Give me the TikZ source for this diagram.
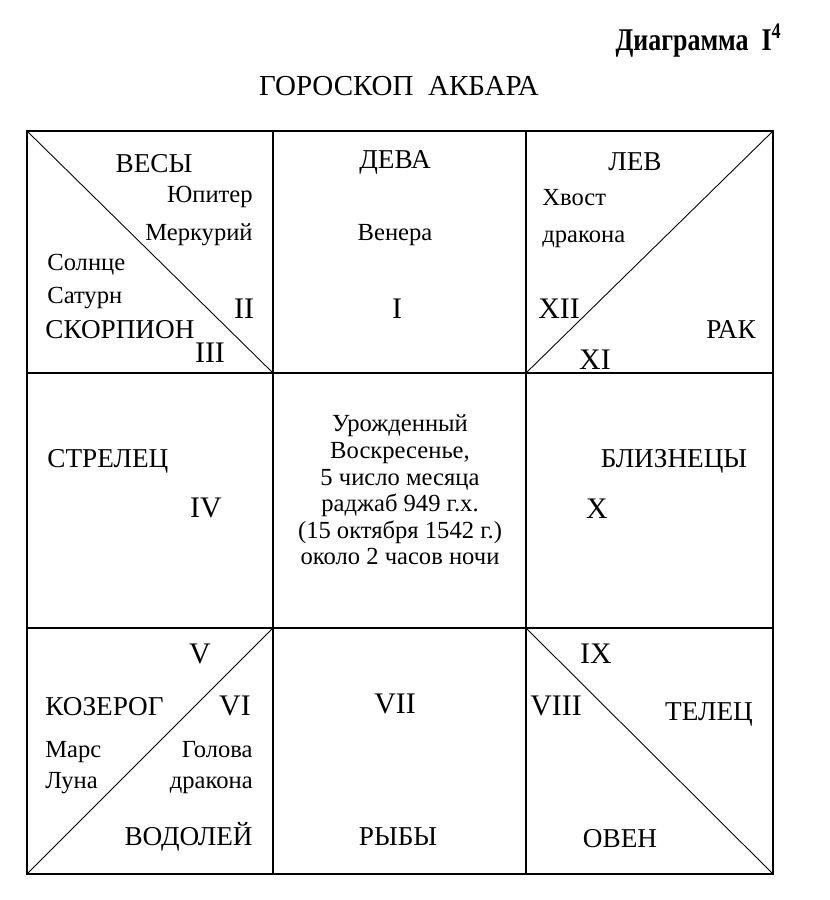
\documentclass[tikz,border=0pt]{standalone}
\usepackage{fontspec}
\setmainfont{Liberation Serif}
\newfontfamily\narrowfont[FakeStretch=0.82]{Liberation Serif}

\begin{document}
\begin{tikzpicture}[
    x=0.02cm, y=-0.02cm,
    every node/.style={inner sep=0pt, align=center},
    sign/.style={font=\fontsize{15.5}{18}\selectfont},
    planet/.style={font=\fontsize{14}{16}\selectfont},
    house/.style={font=\fontsize{17}{20}\selectfont},
    heading/.style={font=\narrowfont\bfseries\fontsize{18}{22}\selectfont},
    title/.style={font=\fontsize{16.5}{20}\selectfont},
    birth/.style={font=\fontsize{14}{15.1}\selectfont},
    frame/.style={line width=0.6pt},
    cusp/.style={line width=0.5pt}
]
\useasboundingbox (0,0) rectangle (829,900);

% Grid
\coordinate (a0) at (27,131); \coordinate (a1) at (273,131);
\coordinate (a2) at (526,131); \coordinate (a3) at (773,131);
\coordinate (b0) at (27,373); \coordinate (b1) at (273,373);
\coordinate (b2) at (526,373); \coordinate (b3) at (773,373);
\coordinate (c0) at (27,628); \coordinate (c1) at (273,628);
\coordinate (c2) at (526,628); \coordinate (c3) at (773,628);
\coordinate (d0) at (27,874); \coordinate (d1) at (273,874);
\coordinate (d2) at (526,874); \coordinate (d3) at (773,874);

\draw[frame] (a0) rectangle (d3);
\draw[frame] (a1) -- (d1);
\draw[frame] (a2) -- (d2);
\draw[frame] (b0) -- (b3);
\draw[frame] (c0) -- (c3);
\draw[cusp] (a0) -- (b1);
\draw[cusp] (b2) -- (a3);
\draw[cusp] (d0) -- (c1);
\draw[cusp] (c2) -- (d3);

% Heading
\node[heading, anchor=base east] (diagram) at (782,50) {Диаграмма\ \ I\textsuperscript{4}};
\node[title, anchor=base] (title) at (399,95) {ГОРОСКОП\ \ АКБАРА};

% Top row
\node[sign, anchor=base] (libra) at (154,172) {ВЕСЫ};
\node[planet, anchor=base east] (jupiter) at (253,202) {Юпитер};
\node[planet, anchor=base east] (mercury) at (253,240) {Меркурий};
\node[planet, anchor=base west] (sun) at (47,270) {Солнце};
\node[planet, anchor=base west] (saturn) at (47,303) {Сатурн};
\node[house, anchor=base] (hII) at (244,318) {II};
\node[sign, anchor=base west] (scorpio) at (45,338) {СКОРПИОН};
\node[house, anchor=base] (hIII) at (210,362) {III};

\node[sign, anchor=base] (virgo) at (395,168) {ДЕВА};
\node[planet, anchor=base] (venus) at (395,240) {Венера};
\node[house, anchor=base] (hI) at (397,318) {I};

\node[sign, anchor=base] (leo) at (635,170) {ЛЕВ};
\node[planet, anchor=base west] (tail) at (542,205) {Хвост};
\node[planet, anchor=base west] (tailb) at (542,242) {дракона};
\node[house, anchor=base] (hXII) at (559,318) {XII};
\node[sign, anchor=base] (cancer) at (731,338) {РАК};
\node[house, anchor=base] (hXI) at (595,369) {XI};

% Middle row
\node[sign, anchor=base west] (sagittarius) at (47,467) {СТРЕЛЕЦ};
\node[house, anchor=base] (hIV) at (206,517) {IV};
\node[birth] (born) at (400,490) {Урожденный\\Воскресенье,\\5 число месяца\\раджаб 949 г.х.\\(15 октября 1542 г.)\\около 2 часов ночи};
\node[sign, anchor=base] (gemini) at (674,467) {БЛИЗНЕЦЫ};
\node[house, anchor=base] (hX) at (597,518) {X};

% Bottom row
\node[house, anchor=base] (hV) at (200,663) {V};
\node[sign, anchor=base west] (capricorn) at (45,715) {КОЗЕРОГ};
\node[house, anchor=base] (hVI) at (235,715) {VI};
\node[planet, anchor=base west] (mars) at (45,757) {Марс};
\node[planet, anchor=base east] (head) at (253,757) {Голова};
\node[planet, anchor=base west] (moon) at (45,788) {Луна};
\node[planet, anchor=base east] (headb) at (253,788) {дракона};
\node[sign, anchor=base east] (aquarius) at (253,845) {ВОДОЛЕЙ};

\node[house, anchor=base] (hVII) at (395,713) {VII};
\node[sign, anchor=base] (pisces) at (398,845) {РЫБЫ};

\node[house, anchor=base] (hIX) at (596,663) {IX};
\node[house, anchor=base] (hVIII) at (556,715) {VIII};
\node[sign, anchor=base] (taurus) at (709,720) {ТЕЛЕЦ};
\node[sign, anchor=base] (aries) at (620,847) {ОВЕН};

\end{tikzpicture}
\end{document}
